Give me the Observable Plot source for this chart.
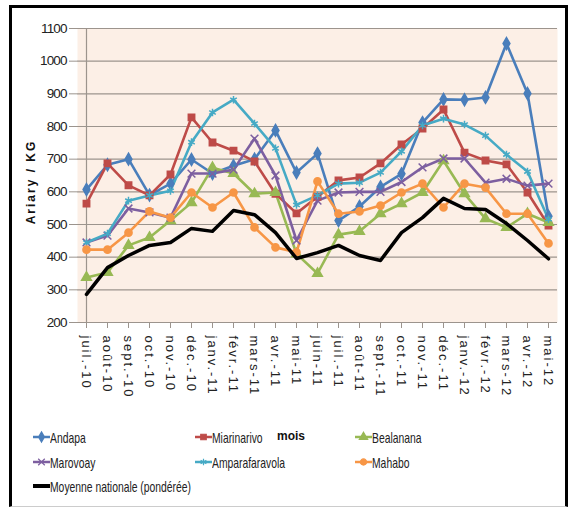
<!DOCTYPE html>
<html>
<head>
<meta charset="utf-8">
<script src="https://cdn.jsdelivr.net/npm/d3@7"></script>
<script src="https://cdn.jsdelivr.net/npm/@observablehq/plot@0.6"></script>
<style>
  html, body { margin: 0; padding: 0; background: #fff; width: 570px; height: 509px; overflow: hidden; }
  #frame { position: absolute; left: 9px; top: 5px; width: 559px; height: 502px; box-sizing: border-box;
           border: 3px solid #000; border-bottom: 1px solid #ccc; }
  #chart svg { position: absolute; left: 0; top: 0; }
  g[aria-label="y-axis tick label"] text { font-family: "Liberation Sans", Arial, sans-serif; font-size: 13.5px; letter-spacing: -0.9px; fill: #222; }
  g[aria-label="x-axis tick label"] text { font-family: "Liberation Sans", Arial, sans-serif; font-size: 13px; letter-spacing: 2px; fill: #222; }
  #ytitle { position: absolute; left: 31px; top: 182px; transform: translate(-50%, -50%) rotate(-90deg);
            font-family: "Liberation Sans", Arial, sans-serif; font-weight: bold; font-size: 12px; letter-spacing: 2px; white-space: nowrap; color: #111; }
  .leg { position: absolute; font-family: "Liberation Sans", Arial, sans-serif; font-size: 15px; color: #222;
         white-space: nowrap; display: flex; align-items: center; height: 18px; }
  .leg span { display: inline-block; transform: scaleX(0.69); transform-origin: left center; }
  #mois { position: absolute; left: 277px; top: 429px; font-family: "Liberation Sans", Arial, sans-serif; font-weight: bold; font-size: 12px; color: #111; }
</style>
</head>
<body>
<div id="frame"></div>
<div id="chart"></div>
<div id="ytitle">Ariary / KG</div>
<div id="mois">mois</div>
<div id="legend"></div>
<script>
const months = ["juil.-10","août-10","sept.-10","oct.-10","nov.-10","déc.-10","janv.-11","févr.-11","mars-11","avr.-11","mai-11","juin-11","juil.-11","août-11","sept.-11","oct.-11","nov.-11","déc.-11","janv.-12","févr.-12","mars-12","avr.-12","mai-12"];

const andapa         = [607, 683, 700, 590, 625, 699, 656, 680, 700, 788, 659, 717, 512, 555, 615, 655, 812, 883, 882, 889, 1054, 901, 525];
const miarinarivo    = [564, 687, 620, 589, 653, 828, 751, 726, 693, 594, 534, 585, 635, 644, 687, 745, 794, 852, 720, 696, 684, 598, 497];
const bealanana      = [338, 353, 436, 460, 512, 567, 674, 656, 594, 598, 410, 350, 469, 479, 533, 564, 598, 695, 594, 518, 491, 533, 506];
const marovoay       = [445, 466, 549, 537, 521, 656, 656, 668, 763, 650, 451, 573, 598, 600, 600, 630, 675, 702, 702, 628, 640, 619, 625];
const amparafaravola = [445, 472, 573, 589, 603, 752, 843, 882, 809, 733, 560, 589, 625, 628, 659, 724, 803, 824, 806, 772, 714, 662, 516];
const mahabo         = [423, 423, 475, 540, 521, 598, 552, 598, 491, 430, 415, 632, 533, 540, 558, 598, 625, 552, 625, 613, 533, 533, 442];
const moyenne        = [286, 368, 405, 436, 445, 488, 479, 543, 530, 475, 396, 414, 436, 405, 390, 475, 521, 580, 549, 546, 503, 451, 395];

const seriesNames = ["Andapa", "Miarinarivo", "Bealanana", "Marovoay", "Amparafaravola", "Mahabo", "Moyenne nationale (pondérée)"];
const seriesValues = [andapa, miarinarivo, bealanana, marovoay, amparafaravola, mahabo, moyenne];
const seriesColors = ["#4A7EBB", "#BE4B48", "#98B954", "#7D5FA0", "#46AAC5", "#F79646", "#000000"];
const seriesSymbols = ["diamond", "square", "triangle", "times", "asterisk", "circle", null];
const yTicks = [200, 300, 400, 500, 600, 700, 800, 900, 1000, 1100];

const rows = [];
seriesNames.forEach((name, s) => {
  seriesValues[s].forEach((v, i) => rows.push({series: name, month: months[i], value: v}));
});
const markerNames = seriesNames.filter((n, i) => seriesSymbols[i]);
const markerRows = rows.filter(r => markerNames.includes(r.series));
const coloredRows = rows.filter(r => r.series !== seriesNames[6]);
const blackRows = rows.filter(r => r.series === seriesNames[6]);

const chart = Plot.plot({
  width: 570,
  height: 420,
  marginLeft: 77,
  marginRight: 13,
  marginTop: 28,
  marginBottom: 98,
  style: {fontFamily: "Liberation Sans, Arial, sans-serif", background: "transparent", overflow: "visible"},
  x: {type: "point", domain: months, padding: 0, label: null},
  y: {domain: [200, 1100], label: null},
  color: {domain: seriesNames, range: seriesColors},
  symbol: {domain: markerNames, range: seriesSymbols.filter(d => d)},
  marks: [
    Plot.frame({fill: "#FCEFE6", stroke: null}),
    Plot.gridY(yTicks, {stroke: "#9C948D", strokeOpacity: 1, strokeWidth: 1.2}),
    Plot.ruleX([months[0]], {stroke: "#9C948D", strokeWidth: 1.2}),
    Plot.axisY(yTicks, {tickSize: 8, tickPadding: 3, stroke: "#9C948D", label: null, tickFormat: d => String(d)}),
    Plot.axisX({tickRotate: 90, tickSize: 6, tickPadding: 7, stroke: "#9C948D", label: null}),
    Plot.line(coloredRows, {x: "month", y: "value", z: "series", stroke: "series", strokeWidth: 2.6, curve: "linear"}),
    Plot.dot(markerRows, {x: "month", y: "value", symbol: "series", fill: "series", stroke: "series", r: 3.6, strokeWidth: 1.5}),
    Plot.line(blackRows, {x: "month", y: "value", stroke: "series", strokeWidth: 3.5})
  ]
});
document.getElementById("chart").appendChild(chart);

// Legend
const legPos = [[33, 428], [195, 428], [355, 428], [33, 453], [195, 453], [355, 453], [33, 477]];
const legend = document.getElementById("legend");
seriesNames.forEach((name, i) => {
  const d = document.createElement("div");
  d.className = "leg";
  d.style.left = legPos[i][0] + "px";
  d.style.top = legPos[i][1] + "px";
  const sw = d3.create("svg").attr("width", 17).attr("height", 16);
  sw.append("line").attr("x1", 0).attr("x2", 17).attr("y1", 8).attr("y2", 8)
    .attr("stroke", seriesColors[i]).attr("stroke-width", i === 6 ? 4 : 2.5);
  if (seriesSymbols[i]) {
    const sym = {diamond: d3.symbolDiamond, square: d3.symbolSquare, triangle: d3.symbolTriangle,
                 times: d3.symbolTimes, asterisk: d3.symbolAsterisk, circle: d3.symbolCircle}[seriesSymbols[i]];
    sw.append("path").attr("transform", "translate(8.5,8)").attr("d", d3.symbol(sym, 30)())
      .attr("fill", seriesColors[i]).attr("stroke", seriesColors[i]).attr("stroke-width", 1.2);
  }
  d.appendChild(sw.node());
  const t = document.createElement("span");
  t.textContent = name;
  d.appendChild(t);
  legend.appendChild(d);
});
</script>
</body>
</html>
